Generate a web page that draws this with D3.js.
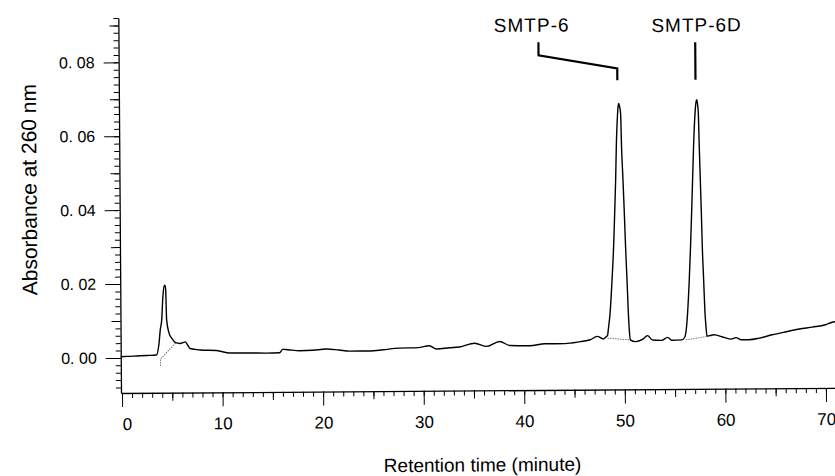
<!DOCTYPE html>
<html>
<head>
<meta charset="utf-8">
<script src="https://cdn.jsdelivr.net/npm/d3@7"></script>
<style>
  body { margin: 0; background: #fff; }
  svg { display: block; font-family: "Liberation Sans", Arial, sans-serif; }
</style>
</head>
<body>
<svg id="chart" width="835" height="476"></svg>
<script>
// chromatogram trace (time in minutes, absorbance)
const traceTime = [-0.1, 0.5, 1.5, 2.5, 3.45, 3.7, 3.85, 4.0, 4.12, 4.28, 4.34, 4.41, 4.49, 4.72, 4.99,
  5.32, 5.82, 6.1, 6.32, 6.57, 6.8, 7.8, 9.44, 10.76, 12.5, 14.4, 15.7, 16.0, 16.5, 17.7, 19.0,
  20.35, 21.6, 22.7, 24.7, 26.0, 27.6, 29.5, 30.6, 31.3, 32.6, 33.6, 35.1, 36.3, 37.6, 38.6,
  40.6, 42.1, 44.1, 45.6, 46.6, 47.3, 47.9, 48.2, 48.33, 48.4, 48.59, 48.81, 48.99, 49.12,
  49.24, 49.33, 49.48, 49.54, 49.59, 49.66, 49.78, 49.85, 49.97, 50.08, 50.18, 50.3, 50.41,
  50.49, 50.59, 51.1, 51.8, 52.3, 52.8, 53.7, 54.3, 54.7, 55.7, 56.0, 56.19, 56.49, 56.64,
  56.77, 56.89, 57.01, 57.18, 57.27, 57.35, 57.43, 57.51, 57.58, 57.66, 57.74, 57.81, 57.92,
  58.03, 58.12, 58.21, 58.9, 59.9, 60.6, 61.1, 61.6, 62.4, 63.4, 64.7, 66.1, 67.4, 68.7,
  70.0, 70.6, 71.3];
const traceAbs = [0.0003, 0.0004, 0.0005, 0.0006, 0.0007, 0.0035, 0.0075, 0.0102, 0.0160, 0.0196,
  0.0195, 0.0187, 0.0102, 0.0066, 0.0052, 0.0041, 0.0038, 0.0040, 0.0042, 0.0033, 0.0024,
  0.0020, 0.0018, 0.0011, 0.0011, 0.0010, 0.0011, 0.0020, 0.0019, 0.0016, 0.0017, 0.0020,
  0.0017, 0.0014, 0.0014, 0.0017, 0.0021, 0.0022, 0.0027, 0.0018, 0.0021, 0.0023, 0.0033,
  0.0024, 0.0037, 0.0026, 0.0025, 0.0030, 0.0030, 0.0035, 0.0040, 0.0049, 0.0042, 0.0048,
  0.0052, 0.0066, 0.0111, 0.0201, 0.0291, 0.0382, 0.0472, 0.0562, 0.0652, 0.0672, 0.0679,
  0.0674, 0.0652, 0.0562, 0.0472, 0.0382, 0.0291, 0.0201, 0.0111, 0.0066, 0.0039, 0.0034,
  0.0040, 0.0050, 0.0038, 0.0037, 0.0045, 0.0037, 0.0038, 0.0045, 0.0074, 0.0200, 0.0290,
  0.0380, 0.0470, 0.0560, 0.0650, 0.0678, 0.0688, 0.0678, 0.0650, 0.0560, 0.0470, 0.0380,
  0.0290, 0.0200, 0.0110, 0.0074, 0.0048, 0.0051, 0.0044, 0.0039, 0.0043, 0.0037, 0.0037,
  0.0041, 0.0050, 0.0058, 0.0065, 0.0070, 0.0076, 0.0082, 0.0085];

// integration baselines drawn by the integrator (dotted)
const baseFront = [[3.85, -0.0023], [3.85, -0.0004], [5.43, 0.0041]];
const basePeak1 = [[48.33, 0.0044], [50.59, 0.0039]];
const basePeak2 = [[56.1, 0.0038], [58.8, 0.0049]];

// peak labels and leader lines (time, absorbance)
const peakNames = ["SMTP-6", "SMTP-6D"];
const labelPos = [[41.0, 0.0875], [57.4, 0.0872]];
const leaders = [
  [[41.66, 0.0846], [41.66, 0.0811], [49.48, 0.0774], [49.48, 0.0742]],
  [[57.25, 0.0843], [57.25, 0.0742]]
];

const xMajor = [0, 10, 20, 30, 40, 50, 60, 70];
const yMajor = [0, 0.02, 0.04, 0.06, 0.08];

const svg = d3.select("#chart");
// the scanned figure is tilted a little
const g = svg.append("g").attr("transform", "rotate(-0.41, 121, 393)");

const x = d3.scaleLinear().domain([-0.1, 71.6]).range([121, 842]);
const y = d3.scaleLinear().domain([-0.0095, 0.092]).range([393, 18]);

// y axis: minor / mid / major ticks
const yMinor = d3.range(-8, 93, 2).map(d => d / 1000);
const yMid = d3.range(-0, 92, 10).map(d => d / 1000).concat([0.01, 0.03, 0.05, 0.07, 0.09]);
g.append("g").attr("transform", "translate(121,0)")
  .call(d3.axisLeft(y).tickValues(yMinor).tickSize(5).tickFormat(""))
  .call(s => s.select(".domain").remove());
g.append("g").attr("transform", "translate(121,0)")
  .call(d3.axisLeft(y).tickValues([0.01, 0.03, 0.05, 0.07, 0.09]).tickSize(9).tickFormat(""))
  .call(s => s.select(".domain").remove());
const yAxis = g.append("g").attr("transform", "translate(121,0)")
  .call(d3.axisLeft(y).tickValues(yMajor).tickSize(15).tickSizeOuter(0).tickPadding(9)
    .tickFormat(d => d3.format(".2f")(d).replace(".", ". ")));
yAxis.selectAll("text").style("font-size", "16px").attr("fill", "#000");

// x axis
const xMinor = d3.range(0, 72, 1);
const xMid = d3.range(5, 72, 10);
g.append("g").attr("transform", "translate(0,393)")
  .call(d3.axisBottom(x).tickValues(xMinor).tickSize(5).tickFormat(""))
  .call(s => s.select(".domain").remove());
g.append("g").attr("transform", "translate(0,393)")
  .call(d3.axisBottom(x).tickValues(xMid).tickSize(8).tickFormat(""))
  .call(s => s.select(".domain").remove());
const xAxis = g.append("g").attr("transform", "translate(0,393)")
  .call(d3.axisBottom(x).tickValues(xMajor).tickSize(14).tickSizeOuter(0));
xAxis.selectAll("text").attr("y", 37).attr("dy", 0).style("font-size", "17px").attr("fill", "#000")
  .filter(d => d === 0).attr("text-anchor", "start");

g.selectAll(".domain").attr("stroke", "#000").attr("stroke-width", 1.3);
g.selectAll(".tick line").attr("stroke", "#000").attr("stroke-width", 1);

// titles
g.append("text")
  .attr("transform", "translate(38,189) rotate(-90)")
  .attr("text-anchor", "middle")
  .style("font-size", "21px")
  .text("Absorbance at 260 nm");
g.append("text")
  .attr("x", 482).attr("y", 474)
  .attr("text-anchor", "middle")
  .style("font-size", "19px")
  .text("Retention time (minute)");

// dotted integrator baselines
const pairLine = d3.line().x(d => x(d[0])).y(d => y(d[1]));
g.selectAll(".base")
  .data([baseFront, basePeak1, basePeak2])
  .enter()
  .append("path")
  .attr("class", "base")
  .attr("d", pairLine)
  .attr("fill", "none")
  .attr("stroke", "#777")
  .attr("stroke-width", 1)
  .attr("stroke-dasharray", "1.5,1");

// the trace
const trace = traceTime.map((t, i) => [t, traceAbs[i]]);
g.append("path")
  .datum(trace)
  .attr("d", d3.line().x(d => x(d[0])).y(d => y(d[1])).curve(d3.curveMonotoneX))
  .attr("fill", "none")
  .attr("stroke", "#000")
  .attr("stroke-width", 1.4)
  .attr("stroke-linejoin", "round");

// peak labels
g.selectAll(".leader")
  .data(leaders)
  .enter()
  .append("path")
  .attr("class", "leader")
  .attr("d", pairLine)
  .attr("fill", "none")
  .attr("stroke", "#000")
  .attr("stroke-width", 2.2);
g.selectAll(".peakName")
  .data(peakNames)
  .enter()
  .append("text")
  .attr("class", "peakName")
  .attr("x", (d, i) => x(labelPos[i][0]))
  .attr("y", (d, i) => y(labelPos[i][1]))
  .attr("text-anchor", "middle")
  .style("font-size", "19px")
  .style("letter-spacing", "1px")
  .text(d => d);
</script>
</body>
</html>
